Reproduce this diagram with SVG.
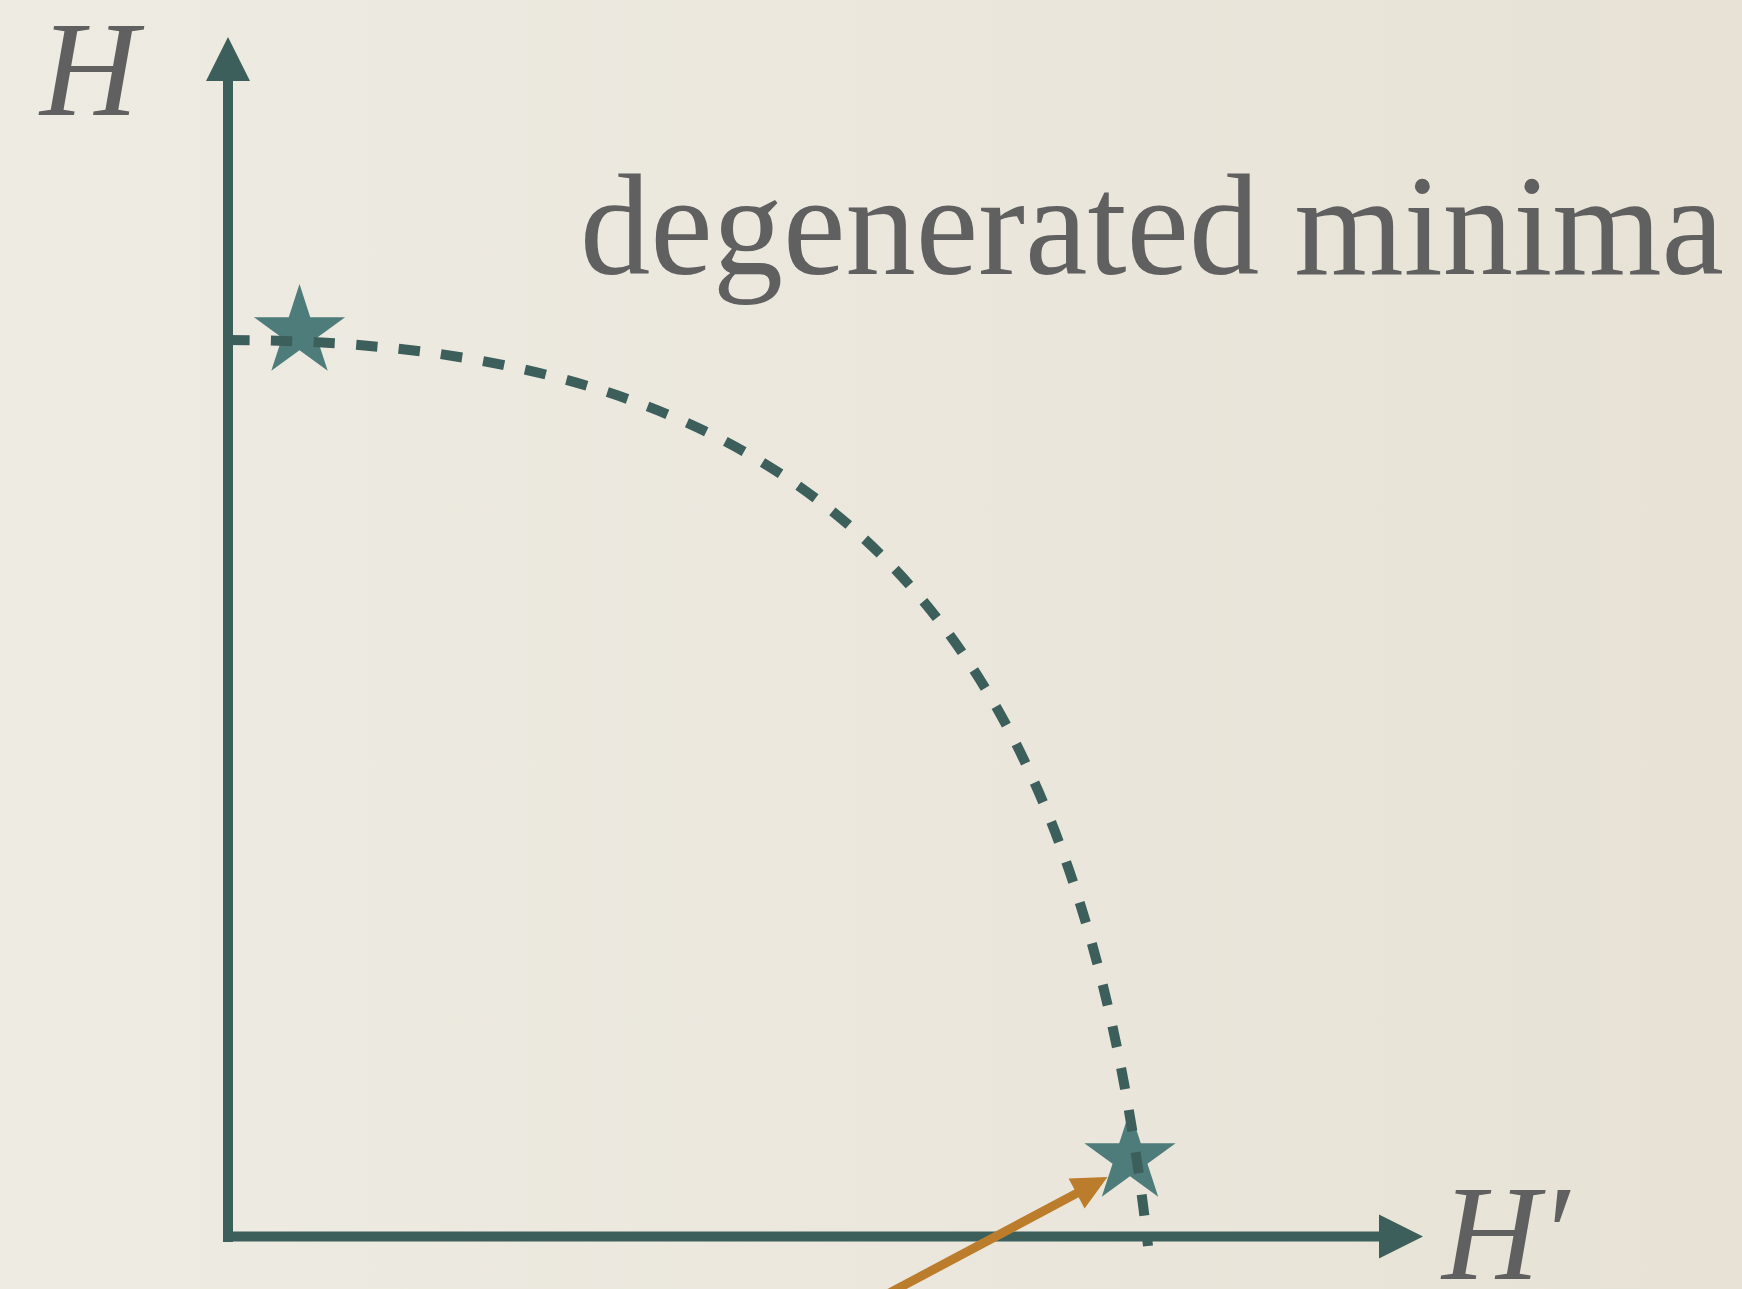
<svg xmlns="http://www.w3.org/2000/svg" width="1742" height="1289" viewBox="0 0 1742 1289">
  <defs>
    <linearGradient id="bg" x1="0" y1="0" x2="1" y2="0">
      <stop offset="0" stop-color="#eeebe2"/>
      <stop offset="0.5" stop-color="#ebe7dd"/>
      <stop offset="1" stop-color="#e7e2d5"/>
    </linearGradient>
    <polygon id="star" points="0,-48 10.78,-14.84 45.65,-14.83 17.44,5.67 28.21,38.83 0,18.34 -28.21,38.83 -17.44,5.67 -45.65,-14.83 -10.78,-14.84"/>
  </defs>
  <style>
    .axis { stroke: #3d5f5c; stroke-width: 10; fill: none; }
    .head { fill: #3d5f5c; }
    .curve { stroke: #3d5f5c; stroke-width: 10; fill: none; stroke-dasharray: 21.35 21.35; }
    .star { fill: #4e7c7b; }
    .label { font-family: "Liberation Serif", "DejaVu Serif", serif; fill: #606060; }
    .ital { font-style: italic; }
    .orange { stroke: #bb7d2c; stroke-width: 9; fill: none; }
    .ohead { fill: #bb7d2c; }
  </style>
  <rect x="0" y="0" width="1742" height="1289" fill="url(#bg)"/>

  <g id="axes">
    <line class="axis" x1="228" y1="78" x2="228" y2="1242"/>
    <polygon class="head" points="228,37 250,81 206,81"/>
    <line class="axis" x1="223" y1="1236.5" x2="1382" y2="1236.5"/>
    <polygon class="head" points="1423,1236.5 1379,1258.5 1379,1214.5"/>
  </g>

  <g id="label-H">
    <text class="label ital" x="40" y="115" font-size="136">H</text>
  </g>
  <g id="label-Hprime">
    <text class="label ital" x="1442" y="1279" font-size="135">H′</text>
  </g>
  <g id="title">
    <text class="label" x="580" y="274" font-size="143" textLength="1144" lengthAdjust="spacingAndGlyphs">degenerated minima</text>
  </g>

  <g id="star-top">
    <use href="#star" class="star" transform="translate(299.5,332)"/>
  </g>
  <g id="star-bottom">
    <use href="#star" class="star" transform="translate(1130,1158)"/>
  </g>

  <g id="connectors">
    <path class="curve" d="M228,340 C843,340 1080,644 1148,1246"/>
    <line class="orange" x1="850" y1="1314" x2="1078" y2="1192.6"/>
    <polygon class="ohead" points="1107.5,1177 1084.6,1208.4 1068.6,1178.4"/>
  </g>
</svg>
